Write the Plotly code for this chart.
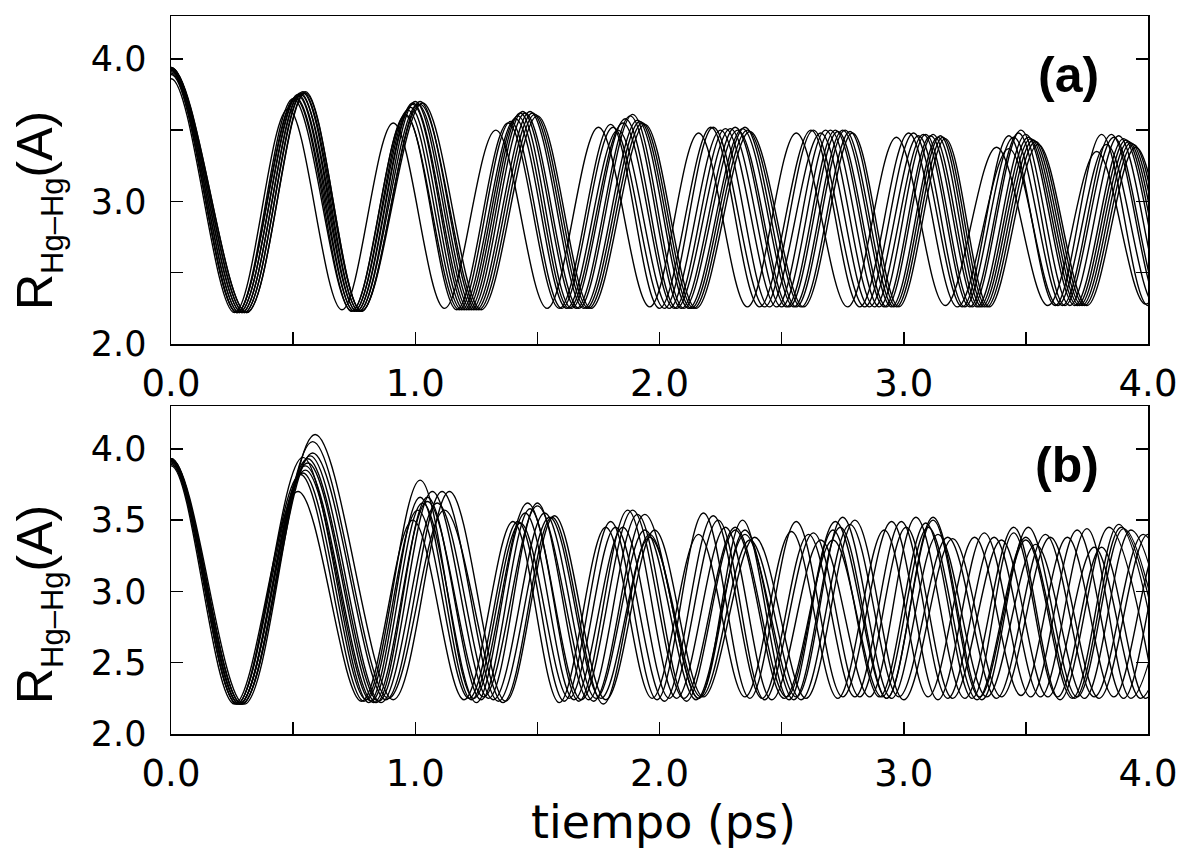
import plotly.graph_objects as go

# ---------------- data: turning points (time in ps, R in Angstrom) ----------------
# panel (a)
a01_t = [-0.26, 0.00, 0.26, 0.48, 0.70, 0.91, 1.12, 1.33, 1.54, 1.75, 1.96, 2.16, 2.36, 2.56, 2.77, 2.97, 3.17, 3.38, 3.59, 3.79, 3.99, 4.19]
a01_r = [2.22, 3.86, 2.22, 3.65, 2.24, 3.55, 2.25, 3.50, 2.25, 3.52, 2.26, 3.48, 2.26, 3.48, 2.26, 3.45, 2.27, 3.38, 2.27, 3.35, 2.28, 3.36]
a02_t = [-0.27, 0.00, 0.27, 0.51, 0.74, 0.96, 1.17, 1.38, 1.59, 1.80, 2.00, 2.21, 2.41, 2.62, 2.82, 3.02, 3.22, 3.43, 3.63, 3.83, 4.03, 4.23]
a02_r = [2.22, 3.90, 2.22, 3.72, 2.23, 3.61, 2.24, 3.55, 2.25, 3.54, 2.25, 3.52, 2.26, 3.50, 2.26, 3.48, 2.26, 3.37, 2.27, 3.40, 2.27, 3.40]
a03_t = [-0.27, 0.00, 0.27, 0.51, 0.75, 0.97, 1.19, 1.41, 1.62, 1.83, 2.04, 2.25, 2.45, 2.66, 2.86, 3.06, 3.25, 3.45, 3.65, 3.85, 4.05, 4.25]
a03_r = [2.22, 3.91, 2.22, 3.73, 2.23, 3.64, 2.24, 3.58, 2.25, 3.50, 2.25, 3.50, 2.26, 3.48, 2.26, 3.46, 2.26, 3.45, 2.27, 3.47, 2.27, 3.45]
a04_t = [-0.28, 0.00, 0.28, 0.52, 0.75, 0.98, 1.20, 1.42, 1.63, 1.85, 2.06, 2.27, 2.48, 2.68, 2.88, 3.08, 3.27, 3.47, 3.66, 3.86, 4.06, 4.26]
a04_r = [2.22, 3.92, 2.22, 3.74, 2.23, 3.66, 2.24, 3.60, 2.25, 3.55, 2.25, 3.51, 2.26, 3.50, 2.26, 3.47, 2.26, 3.48, 2.27, 3.45, 2.27, 3.44]
a05_t = [-0.28, 0.00, 0.28, 0.52, 0.76, 0.99, 1.21, 1.43, 1.64, 1.86, 2.07, 2.29, 2.50, 2.70, 2.90, 3.09, 3.28, 3.48, 3.68, 3.88, 4.08, 4.28]
a05_r = [2.22, 3.92, 2.22, 3.75, 2.23, 3.68, 2.24, 3.62, 2.25, 3.58, 2.25, 3.51, 2.26, 3.50, 2.26, 3.47, 2.26, 3.50, 2.27, 3.46, 2.27, 3.44]
a06_t = [-0.29, 0.00, 0.29, 0.53, 0.76, 0.99, 1.22, 1.44, 1.66, 1.88, 2.09, 2.31, 2.52, 2.72, 2.92, 3.11, 3.30, 3.50, 3.70, 3.90, 4.10, 4.30]
a06_r = [2.22, 3.93, 2.22, 3.76, 2.23, 3.69, 2.24, 3.63, 2.25, 3.60, 2.25, 3.52, 2.26, 3.50, 2.26, 3.46, 2.26, 3.47, 2.27, 3.44, 2.27, 3.43]
a07_t = [-0.29, 0.00, 0.29, 0.53, 0.77, 1.00, 1.23, 1.45, 1.67, 1.89, 2.10, 2.32, 2.53, 2.73, 2.93, 3.12, 3.31, 3.51, 3.71, 3.91, 4.11, 4.31]
a07_r = [2.22, 3.93, 2.22, 3.75, 2.23, 3.70, 2.24, 3.62, 2.25, 3.61, 2.25, 3.50, 2.26, 3.49, 2.26, 3.47, 2.26, 3.45, 2.27, 3.43, 2.27, 3.42]
a08_t = [-0.30, 0.00, 0.30, 0.54, 0.77, 1.01, 1.24, 1.47, 1.69, 1.91, 2.12, 2.34, 2.55, 2.75, 2.95, 3.14, 3.32, 3.52, 3.72, 3.92, 4.12, 4.32]
a08_r = [2.22, 3.94, 2.22, 3.76, 2.23, 3.68, 2.24, 3.63, 2.25, 3.57, 2.25, 3.51, 2.26, 3.50, 2.26, 3.45, 2.26, 3.44, 2.27, 3.42, 2.27, 3.41]
a09_t = [-0.30, 0.00, 0.30, 0.54, 0.78, 1.02, 1.25, 1.48, 1.70, 1.92, 2.13, 2.35, 2.56, 2.76, 2.96, 3.15, 3.33, 3.53, 3.73, 3.93, 4.13, 4.33]
a09_r = [2.22, 3.94, 2.22, 3.77, 2.23, 3.70, 2.24, 3.62, 2.25, 3.56, 2.25, 3.52, 2.26, 3.50, 2.26, 3.46, 2.26, 3.43, 2.27, 3.41, 2.27, 3.40]
a10_t = [-0.31, 0.00, 0.31, 0.55, 0.78, 1.02, 1.26, 1.49, 1.71, 1.93, 2.14, 2.36, 2.58, 2.78, 2.97, 3.16, 3.34, 3.54, 3.74, 3.94, 4.14, 4.34]
a10_r = [2.22, 3.93, 2.22, 3.76, 2.23, 3.68, 2.24, 3.61, 2.25, 3.55, 2.25, 3.50, 2.26, 3.49, 2.26, 3.45, 2.26, 3.42, 2.27, 3.40, 2.27, 3.39]
a11_t = [-0.31, 0.00, 0.31, 0.55, 0.78, 1.03, 1.27, 1.50, 1.72, 1.94, 2.15, 2.37, 2.59, 2.79, 2.98, 3.17, 3.35, 3.55, 3.75, 3.95, 4.15, 4.35]
a11_r = [2.22, 3.94, 2.22, 3.77, 2.23, 3.69, 2.24, 3.60, 2.25, 3.54, 2.25, 3.49, 2.26, 3.48, 2.26, 3.44, 2.26, 3.40, 2.27, 3.38, 2.27, 3.37]
a12_t = [-0.27, 0.00, 0.27, 0.50, 0.74, 0.96, 1.18, 1.39, 1.60, 1.81, 2.02, 2.22, 2.43, 2.63, 2.84, 3.04, 3.24, 3.43, 3.62, 3.81, 4.00, 4.20]
a12_r = [2.22, 3.89, 2.22, 3.72, 2.23, 3.60, 2.24, 3.56, 2.25, 3.52, 2.25, 3.52, 2.26, 3.50, 2.26, 3.48, 2.26, 3.46, 2.27, 3.47, 2.27, 3.45]

# panel (b)
b01_t = [-0.26, 0.00, 0.26, 0.52, 0.78, 0.99, 1.20, 1.40, 1.59, 1.78, 1.97, 2.16, 2.35, 2.54, 2.73, 2.92, 3.10, 3.29, 3.48, 3.67, 3.86, 4.05, 4.24]
b01_r = [2.21, 3.88, 2.21, 3.70, 2.23, 3.50, 2.24, 3.49, 2.22, 3.45, 2.25, 3.40, 2.26, 3.42, 2.25, 3.43, 2.26, 3.38, 2.27, 3.38, 2.26, 3.35, 2.27]
b02_t = [-0.27, 0.00, 0.27, 0.54, 0.80, 1.01, 1.22, 1.42, 1.61, 1.80, 1.99, 2.18, 2.37, 2.56, 2.75, 2.95, 3.14, 3.33, 3.52, 3.71, 3.90, 4.09, 4.28]
b02_r = [2.21, 3.90, 2.21, 3.83, 2.24, 3.57, 2.25, 3.49, 2.23, 3.49, 2.24, 3.55, 2.25, 3.49, 2.26, 3.49, 2.24, 3.41, 2.26, 3.43, 2.25, 3.40, 2.26]
b03_t = [-0.28, 0.00, 0.28, 0.55, 0.82, 1.03, 1.25, 1.45, 1.65, 1.85, 2.04, 2.24, 2.43, 2.63, 2.82, 3.01, 3.20, 3.40, 3.59, 3.78, 3.97, 4.16]
b03_r = [2.21, 3.91, 2.21, 3.85, 2.23, 3.62, 2.22, 3.55, 2.24, 3.45, 2.25, 3.50, 2.24, 3.41, 2.26, 3.45, 2.25, 3.36, 2.26, 3.31, 2.25, 3.40]
b04_t = [-0.28, 0.00, 0.28, 0.56, 0.84, 1.05, 1.27, 1.47, 1.67, 1.87, 2.07, 2.27, 2.46, 2.66, 2.86, 3.05, 3.25, 3.45, 3.64, 3.84, 4.03]
b04_r = [2.21, 3.92, 2.21, 3.90, 2.22, 3.66, 2.24, 3.58, 2.23, 3.57, 2.25, 3.45, 2.24, 3.36, 2.26, 3.52, 2.25, 3.45, 2.24, 3.45, 2.26]
b05_t = [-0.28, 0.00, 0.28, 0.56, 0.85, 1.07, 1.30, 1.50, 1.71, 1.91, 2.11, 2.31, 2.51, 2.71, 2.91, 3.10, 3.30, 3.50, 3.70, 3.89, 4.09]
b05_r = [2.21, 3.92, 2.21, 3.93, 2.23, 3.70, 2.25, 3.62, 2.24, 3.54, 2.23, 3.43, 2.25, 3.36, 2.26, 3.45, 2.24, 3.38, 2.25, 3.45, 2.26]
b06_t = [-0.29, 0.00, 0.29, 0.57, 0.86, 1.09, 1.32, 1.53, 1.74, 1.94, 2.15, 2.35, 2.56, 2.75, 2.95, 3.14, 3.34, 3.54, 3.74, 3.93, 4.13]
b06_r = [2.21, 3.93, 2.21, 3.95, 2.22, 3.62, 2.24, 3.55, 2.25, 3.43, 2.24, 3.40, 2.26, 3.52, 2.25, 3.40, 2.26, 3.33, 2.25, 3.43, 2.26]
b07_t = [-0.29, 0.00, 0.29, 0.58, 0.88, 1.11, 1.34, 1.55, 1.76, 1.96, 2.17, 2.37, 2.58, 2.78, 2.98, 3.18, 3.38, 3.58, 3.78, 3.98, 4.18]
b07_r = [2.21, 3.93, 2.21, 3.97, 2.24, 3.70, 2.23, 3.52, 2.25, 3.38, 2.26, 3.36, 2.24, 3.47, 2.26, 3.38, 2.25, 3.40, 2.26, 3.40, 2.25]
b08_t = [-0.29, 0.00, 0.29, 0.58, 0.89, 1.12, 1.36, 1.56, 1.77, 1.96, 2.16, 2.35, 2.55, 2.74, 2.93, 3.12, 3.31, 3.50, 3.69, 3.88, 4.07]
b08_r = [2.21, 3.92, 2.21, 4.05, 2.25, 3.57, 2.22, 3.52, 2.21, 3.40, 2.25, 3.43, 2.24, 3.45, 2.25, 3.50, 2.26, 3.36, 2.25, 3.47, 2.26]
b09_t = [-0.30, 0.00, 0.30, 0.59, 0.91, 1.14, 1.37, 1.57, 1.78, 1.98, 2.18, 2.39, 2.60, 2.80, 3.00, 3.20, 3.40, 3.60, 3.80, 4.00, 4.20]
b09_r = [2.21, 3.93, 2.21, 4.10, 2.24, 3.70, 2.23, 3.53, 2.24, 3.43, 2.26, 3.38, 2.25, 3.50, 2.24, 3.37, 2.26, 3.38, 2.25, 3.40, 2.26]
b10_t = [-0.27, 0.00, 0.27, 0.53, 0.79, 1.02, 1.24, 1.46, 1.68, 1.89, 2.10, 2.31, 2.52, 2.72, 2.93, 3.12, 3.32, 3.51, 3.71, 3.90, 4.10]
b10_r = [2.21, 3.89, 2.21, 3.82, 2.23, 3.78, 2.25, 3.62, 2.24, 3.57, 2.25, 3.45, 2.26, 3.49, 2.25, 3.52, 2.24, 3.45, 2.26, 3.44, 2.25]
b11_t = [-0.28, 0.00, 0.28, 0.55, 0.83, 1.05, 1.28, 1.50, 1.73, 1.94, 2.16, 2.34, 2.53, 2.71, 2.90, 3.09, 3.28, 3.45, 3.63, 3.81, 3.99, 4.17]
b11_r = [2.21, 3.91, 2.21, 3.88, 2.22, 3.63, 2.26, 3.60, 2.23, 3.54, 2.25, 3.50, 2.24, 3.43, 2.26, 3.48, 2.25, 3.41, 2.26, 3.31, 2.25, 3.42]
b12_t = [-0.27, 0.00, 0.27, 0.54, 0.81, 1.02, 1.23, 1.43, 1.63, 1.82, 2.02, 2.22, 2.42, 2.61, 2.80, 2.99, 3.18, 3.37, 3.56, 3.75, 3.93, 4.12]
b12_r = [2.21, 3.91, 2.21, 3.94, 2.22, 3.66, 2.24, 3.48, 2.25, 3.45, 2.23, 3.53, 2.25, 3.40, 2.26, 3.49, 2.25, 3.38, 2.26, 3.44, 2.25, 3.38]

x_tickvals = [0.0, 1.0, 2.0, 3.0, 4.0]
x_ticktext = ["0.0", "1.0", "2.0", "3.0", "4.0"]
x_minorvals = [0.5, 1.5, 2.5, 3.5]
x_alltickvals = [0.0, 0.5, 1.0, 1.5, 2.0, 2.5, 3.0, 3.5, 4.0]
ya_tickvals = [2.0, 3.0, 4.0]
ya_ticktext = ["2.0", "3.0", "4.0"]
ya_minorvals = [2.5, 3.5]
yb_tickvals = [2.0, 2.5, 3.0, 3.5, 4.0]
yb_ticktext = ["2.0", "2.5", "3.0", "3.5", "4.0"]

panel_a = [(a01_t, a01_r), (a02_t, a02_r), (a03_t, a03_r), (a04_t, a04_r), (a05_t, a05_r), (a06_t, a06_r),
           (a07_t, a07_r), (a08_t, a08_r), (a09_t, a09_r), (a10_t, a10_r), (a11_t, a11_r), (a12_t, a12_r)]
panel_b = [(b01_t, b01_r), (b02_t, b02_r), (b03_t, b03_r), (b04_t, b04_r), (b05_t, b05_r), (b06_t, b06_r),
           (b07_t, b07_r), (b08_t, b08_r), (b09_t, b09_r), (b10_t, b10_r), (b11_t, b11_r), (b12_t, b12_r)]

ARIAL = "Liberation Sans, Arial, Helvetica, sans-serif"
WIDE = "DejaVu Sans, Verdana, sans-serif"
W, H = 1179, 848
ML, MR, MT, MB = 171, 31, 16, 114

fig = go.Figure()
line_style = dict(color="black", width=1.4, shape="spline", smoothing=1.0)
for t, r in panel_a:
    fig.add_trace(go.Scatter(x=t, y=r, mode="lines", line=line_style, xaxis="x", yaxis="y",
                             showlegend=False, hoverinfo="skip"))
for t, r in panel_b:
    fig.add_trace(go.Scatter(x=t, y=r, mode="lines", line=line_style, xaxis="x2", yaxis="y2",
                             showlegend=False, hoverinfo="skip"))

plot_h = H - MT - MB
dom_a = [(734 - 344) / plot_h, 1.0]
dom_b = [0.0, (734 - 406) / plot_h]

def xax(anchor):
    return dict(anchor=anchor, domain=[0, 1], range=[0, 4], tickvals=x_tickvals, ticktext=x_ticktext,
                ticks="inside", ticklen=12, tickwidth=1.5, tickcolor="black",
                minor=dict(tickvals=x_minorvals, ticks="inside", ticklen=12, tickwidth=1.5, tickcolor="black"),
                showline=True, linewidth=1.5, linecolor="black", mirror=True,
                showgrid=False, zeroline=False, ticklabelstandoff=6, automargin=False,
                tickfont=dict(family=WIDE, size=37, color="black"))

def xtop(over, anchor):
    # short ticks along the top frame
    return dict(overlaying=over, anchor=anchor, side="top", range=[0, 4], tickvals=x_alltickvals,
                ticks="inside", ticklen=8, tickwidth=1.5, tickcolor="black", showticklabels=False,
                showline=False, showgrid=False, zeroline=False, automargin=False)

def yax(anchor, dom, vals, text, minor_vals):
    d = dict(anchor=anchor, domain=dom, range=[2.0, 4.3], tickvals=vals, ticktext=text,
             ticks="inside", ticklen=12, tickwidth=1.5, tickcolor="black",
             showline=True, linewidth=1.5, linecolor="black", mirror="ticks",
             showgrid=False, zeroline=False, ticklabelstandoff=16, automargin=False,
             tickfont=dict(family=WIDE, size=35, color="black"))
    if minor_vals:
        d["minor"] = dict(tickvals=minor_vals, ticks="inside", ticklen=12, tickwidth=1.5, tickcolor="black")
    return d

def py(p):
    return (734 - p) / plot_h

def px(p):
    return (p - ML) / (W - ML - MR)

ytitle = 'R<sub><span style="font-size:31px">Hg–Hg</span></sub>(A)'
ann = [
    dict(text=ytitle, textangle=-90, x=px(38), y=py(211), xref="paper", yref="paper",
         xanchor="center", yanchor="middle", showarrow=False, font=dict(family=ARIAL, size=50, color="black")),
    dict(text=ytitle, textangle=-90, x=px(38), y=py(605), xref="paper", yref="paper",
         xanchor="center", yanchor="middle", showarrow=False, font=dict(family=ARIAL, size=50, color="black")),
    dict(text="<b>(a)</b>", x=px(1068), y=py(75), xref="paper", yref="paper", xanchor="center", yanchor="middle",
         showarrow=False, font=dict(family=ARIAL, size=50, color="black")),
    dict(text="<b>(b)</b>", x=px(1067), y=py(465), xref="paper", yref="paper", xanchor="center", yanchor="middle",
         showarrow=False, font=dict(family=ARIAL, size=50, color="black")),
    dict(text="tiempo (ps)", x=px(663), y=py(822), xref="paper", yref="paper", xanchor="center", yanchor="middle",
         showarrow=False, font=dict(family=WIDE, size=46, color="black")),
]

fig.update_layout(
    width=W, height=H, margin=dict(l=ML, r=MR, t=MT, b=MB, pad=0, autoexpand=False),
    paper_bgcolor="white", plot_bgcolor="white",
    xaxis=xax("y"), yaxis=yax("x", dom_a, ya_tickvals, ya_ticktext, ya_minorvals),
    xaxis2=xax("y2"), yaxis2=yax("x2", dom_b, yb_tickvals, yb_ticktext, None),
    xaxis3=xtop("x", "y"), xaxis4=xtop("x2", "y2"),
    annotations=ann, showlegend=False,
)

fig.write_html("out.html", config={"displayModeBar": False, "staticPlot": True},
               post_script="document.body.style.margin='0px';document.body.style.overflow='hidden';")
